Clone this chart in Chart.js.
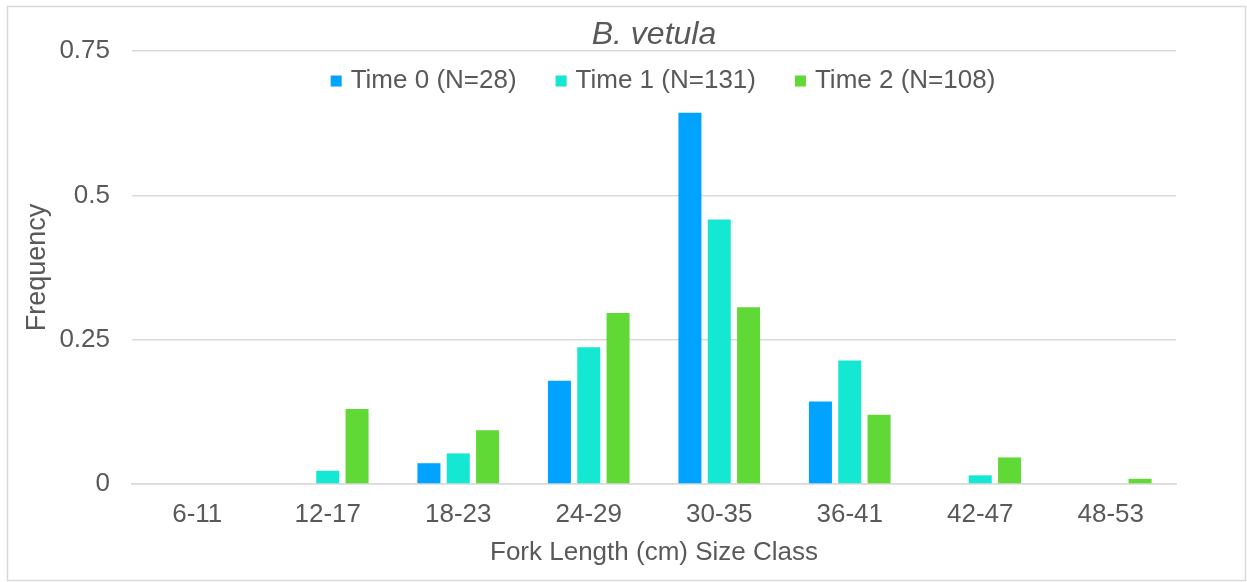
<!DOCTYPE html>
<html>
<head>
<meta charset="utf-8">
<style>
  html, body { margin: 0; padding: 0; background: #ffffff; }
  #wrap { position: absolute; left: 0; top: 0; width: 1247px; height: 582px; }
</style>
<script src="https://cdn.jsdelivr.net/npm/chart.js@4.4.1/dist/chart.umd.min.js"></script>
</head>
<body>
<div id="wrap"><canvas id="chart" width="1247" height="582"></canvas></div>
<script>
// Size classes (fork length, cm)
const categories = ['6-11', '12-17', '18-23', '24-29', '30-35', '36-41', '42-47', '48-53'];

// Relative frequency of each size class per survey time
const time0 = [0, 0, 0.036, 0.179, 0.643, 0.143, 0, 0];
const time1 = [0, 0.023, 0.053, 0.237, 0.458, 0.214, 0.015, 0];
const time2 = [0, 0.130, 0.093, 0.296, 0.306, 0.120, 0.046, 0.009];

const seriesLabels = ['Time 0 (N=28)', 'Time 1 (N=131)', 'Time 2 (N=108)'];
const seriesColors = ['#00A3FF', '#15E8D2', '#60D937'];

const yTicks = [0, 0.25, 0.5, 0.75];

const textColor = '#595959';
const gridColor = '#d9d9d9';
const fontFamily = '"Liberation Sans", Arial, sans-serif';

// Outer frame around the whole chart
const framePlugin = {
  id: 'frame',
  afterDraw(chart) {
    const ctx = chart.ctx;
    ctx.save();
    ctx.strokeStyle = '#d9d9d9';
    ctx.lineWidth = 1.5;
    ctx.strokeRect(7.5, 6.5, 1238, 574);
    ctx.restore();
  }
};

// Legend drawn inside the top of the plot area
const insideLegend = {
  id: 'insideLegend',
  afterDraw(chart) {
    const ctx = chart.ctx;
    const ds = chart.data.datasets;
    const box = 11, boxGap = 9, itemGap = 39;
    ctx.save();
    ctx.font = '26px ' + fontFamily;
    const widths = ds.map(d => ctx.measureText(d.label).width);
    const total = widths.reduce((a, w) => a + box + boxGap + w, 0) + itemGap * (ds.length - 1);
    let x = 663 - total / 2;
    const y = 81;
    ctx.textBaseline = 'middle';
    ds.forEach((d, i) => {
      ctx.fillStyle = d.backgroundColor;
      ctx.fillRect(x, y - box / 2, box, box);
      x += box + boxGap;
      ctx.fillStyle = textColor;
      ctx.fillText(d.label, x, y);
      x += widths[i] + itemGap;
    });
    ctx.restore();
  }
};

const datasets = [time0, time1, time2].map((vals, i) => ({
  label: seriesLabels[i],
  data: vals,
  backgroundColor: seriesColors[i],
  borderWidth: 0,
  categoryPercentage: 0.674,
  barPercentage: 0.785
}));

new Chart(document.getElementById('chart'), {
  type: 'bar',
  data: { labels: categories, datasets },
  options: {
    responsive: false,
    animation: false,
    layout: { padding: { left: 0, right: 71, top: 0, bottom: 0 } },
    plugins: {
      legend: { display: false },
      tooltip: { enabled: false },
      title: {
        display: true,
        fullSize: false,
        text: 'B. vetula',
        color: textColor,
        font: { family: fontFamily, size: 32, style: 'italic', weight: 'normal', lineHeight: 1.0 },
        padding: { top: 19, bottom: 0 }
      }
    },
    scales: {
      x: {
        grid: { display: false, drawTicks: false },
        border: { display: true, color: gridColor, width: 1.5 },
        ticks: { color: textColor, font: { family: fontFamily, size: 26 }, padding: 15 },
        title: {
          display: true,
          text: 'Fork Length (cm) Size Class',
          color: textColor,
          font: { family: fontFamily, size: 26 },
          padding: { top: 0, bottom: 14 }
        },
        afterFit(scale) { scale.height = 98; }
      },
      y: {
        min: 0,
        max: 0.75,
        afterBuildTicks(scale) { scale.ticks = yTicks.map(v => ({ value: v })); },
        grid: { color: gridColor, lineWidth: 1.5, drawTicks: false },
        border: { display: false },
        ticks: {
          color: textColor,
          font: { family: fontFamily, size: 26 },
          padding: 22,
          callback: v => String(v)
        },
        title: {
          display: true,
          text: 'Frequency',
          color: textColor,
          font: { family: fontFamily, size: 27 },
          padding: { top: 21, bottom: 0 }
        },
        afterFit(scale) { scale.width = 132; }
      }
    }
  },
  plugins: [framePlugin, insideLegend]
});
</script>
</body>
</html>
